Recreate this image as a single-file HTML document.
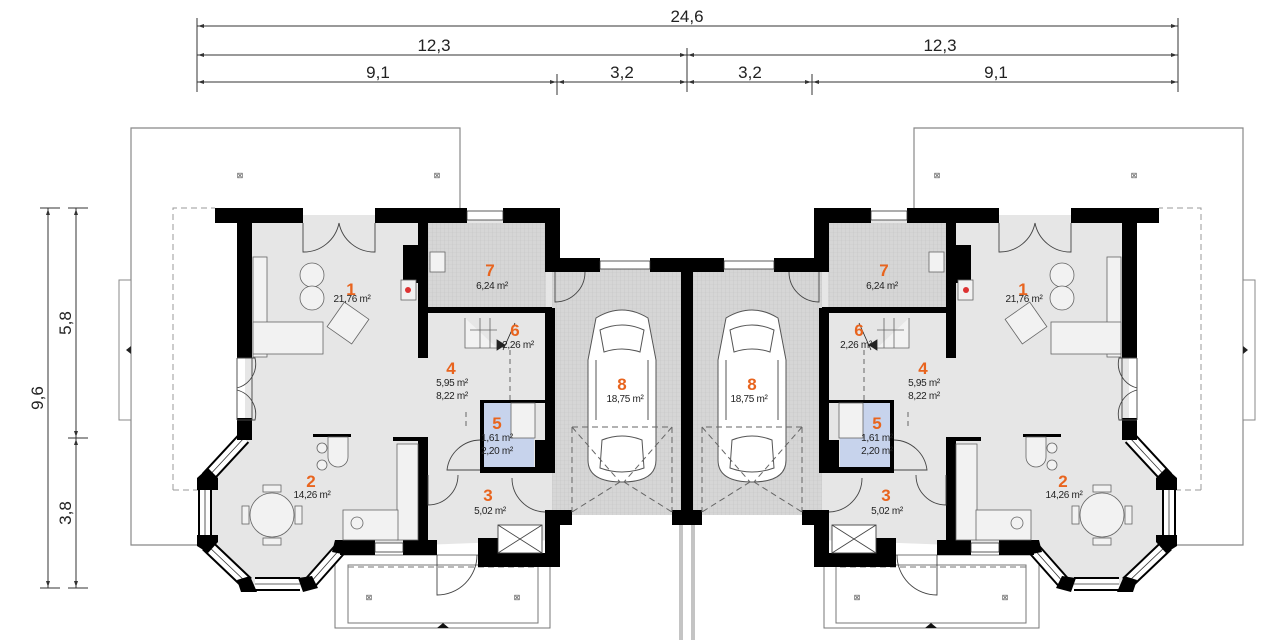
<!DOCTYPE html>
<html><head><meta charset="utf-8"><style>
html,body{margin:0;padding:0;background:#fff}
svg{display:block}
text{font-family:"Liberation Sans",sans-serif}
.n{fill:#e8641e;font-size:17px;text-anchor:middle;font-weight:bold}
.a{fill:#222;font-size:10px;text-anchor:middle;letter-spacing:-0.3px}
.d{fill:#222;font-size:17px;text-anchor:middle}
</style></head><body>
<svg width="1280" height="640" viewBox="0 0 1280 640" xmlns="http://www.w3.org/2000/svg">
<defs>
<pattern id="g" width="4" height="4" patternUnits="userSpaceOnUse">
<rect width="4" height="4" fill="#d6d6d6"/><path d="M0 0H4M0 0V4" stroke="#c4c4c4" stroke-width="0.6"/>
</pattern>
<g id="half">
 <path d="M197 545H131V128H460V208" fill="none" stroke="#888" stroke-width="1.2"/>
 <rect x="119" y="280" width="12" height="140" fill="#fff" stroke="#888" stroke-width="1"/>
 <path d="M126 350l5-4v8z" fill="#222"/>
 <path d="M173 490V208H215" fill="none" stroke="#999" stroke-width="1" stroke-dasharray="6 4"/>
 <path d="M173 490H200" fill="none" stroke="#999" stroke-width="1" stroke-dasharray="6 4"/>
 <text x="240" y="178" font-size="8" fill="#555" text-anchor="middle">⊠</text>
 <text x="437" y="178" font-size="8" fill="#555" text-anchor="middle">⊠</text>
 <polygon points="245,215 555,215 555,540 340,548 310,585 250,585 205,545 205,485 245,435" fill="#e6e6e6"/>
 <rect x="428" y="223" width="118" height="86" fill="url(#g)"/>
 <rect x="552" y="265" width="130" height="250" fill="url(#g)"/>
 <rect x="482" y="403" width="52" height="64" fill="#c7d3ec"/>
 <rect x="335" y="555" width="215" height="73" fill="#fff" stroke="#777" stroke-width="1"/>
 <rect x="348" y="565" width="190" height="58" fill="none" stroke="#777" stroke-width="1"/>
 <path d="M348 567H538" stroke="#777" stroke-dasharray="6 4"/>
 <path d="M437 628l6-5 6 5z" fill="#111"/>
 <text x="369" y="600" font-size="8" fill="#555" text-anchor="middle">⊠</text>
 <text x="517" y="600" font-size="8" fill="#555" text-anchor="middle">⊠</text>
 <path d="M680 525V640M692 525V640" stroke="#888"/>
 <!-- bay windows -->
 <g fill="none" stroke-linecap="butt">
  <path d="M244 438L207 478M205 490V535M207 545L247 583M255 584H300M310 583L341 548" stroke="#000" stroke-width="14"/>
  <path d="M244 438L207 478M205 490V535M207 545L247 583M255 584H300M310 583L341 548" stroke="#fff" stroke-width="10"/>
  <path d="M244 438L207 478M205 490V535M207 545L247 583M255 584H300M310 583L341 548" stroke="#333" stroke-width="0.8"/>
 </g>
 <g fill="#000">
  <rect x="215" y="208" width="88" height="15"/>
  <rect x="237" y="208" width="15" height="150"/>
  <rect x="375" y="208" width="92" height="15"/>
  <rect x="503" y="208" width="57" height="15"/>
  <rect x="545" y="208" width="15" height="64"/>
  <rect x="545" y="258" width="55" height="14"/>
  <rect x="650" y="258" width="32" height="14"/>
  <rect x="418" y="223" width="10" height="135"/>
  <rect x="403" y="245" width="15" height="38"/>
  <rect x="428" y="307" width="124" height="6"/>
  <rect x="545" y="308" width="10" height="165"/>
  <rect x="480" y="400" width="4" height="73"/>
  <rect x="480" y="400" width="70" height="3"/>
  <rect x="480" y="467" width="70" height="6"/>
  <rect x="535" y="440" width="12" height="30"/>
  <rect x="418" y="437" width="10" height="115"/>
  <rect x="393" y="437" width="35" height="4"/>
  <rect x="313" y="434" width="38" height="3"/>
  <rect x="340" y="540" width="35" height="15"/>
  <rect x="403" y="540" width="34" height="15"/>
  <rect x="478" y="538" width="22" height="29"/>
  <rect x="482" y="553" width="78" height="14"/>
  <rect x="545" y="510" width="15" height="57"/>
  <rect x="555" y="510" width="17" height="15"/>
  <rect x="681" y="258" width="6" height="267"/>
  <rect x="672" y="510" width="15" height="15"/>
  <rect x="237" y="418" width="15" height="22"/>
  <polygon points="197,478 208,468 218,478 218,490 197,490"/>
  <polygon points="197,535 218,535 218,542 208,553 197,546"/>
  <polygon points="237,580 250,576 257,592 241,592"/>
  <polygon points="298,578 312,576 318,588 303,592"/>
  <polygon points="335,540 347,540 347,555 332,552"/>
 </g>
 <g fill="#fff" stroke="#333" stroke-width="0.8">
  <rect x="467" y="211" width="36" height="9"/>
  <rect x="600" y="261" width="50" height="8"/>
  <rect x="375" y="543" width="28" height="9"/>
 </g>
 <g fill="none" stroke="#444" stroke-width="0.9">
  <path d="M303 223V252A36 36 0 0 0 339 223M375 223V252A36 36 0 0 1 339 223"/>
  <path d="M237 358V420M252 358V420M237 358h18a25 25 0 0 1-18 30M237 420h18a25 25 0 0 0-18-30"/>
  <path d="M555 272V302A30 30 0 0 0 585 272"/>
  <path d="M480 440A34 34 0 0 0 447 470H480"/>
  <path d="M428 475V505A30 30 0 0 0 458 475"/>
  <path d="M512 478A34 34 0 0 0 545 512"/>
  <path d="M437 555V595A40 40 0 0 0 477 555"/>
  <rect x="498" y="525" width="44" height="28" fill="#fff"/>
  <path d="M498 525L542 553M542 525L498 553"/>
 </g>
 <g fill="#f2f2f2" stroke="#666" stroke-width="0.8">
  <rect x="253" y="257" width="14" height="100"/>
  <rect x="253" y="322" width="70" height="32"/>
  <circle cx="312" cy="275" r="12"/><circle cx="312" cy="298" r="12"/>
  <rect x="333" y="308" width="30" height="30" transform="rotate(35 348 323)"/>
  <rect x="397" y="444" width="21" height="96"/>
  <rect x="343" y="510" width="55" height="30"/>
  <circle cx="357" cy="523" r="6"/>
  <circle cx="272" cy="515" r="22"/>
  <rect x="263" y="485" width="18" height="7"/><rect x="263" y="538" width="18" height="7"/>
  <rect x="242" y="506" width="7" height="18"/><rect x="295" y="506" width="7" height="18"/>
  <path d="M328 437h20v20a10 10 0 0 1-20 0z"/>
  <circle cx="322" cy="448" r="5"/><circle cx="322" cy="465" r="5"/>
  <rect x="430" y="252" width="15" height="20"/>
  <rect x="401" y="280" width="15" height="20"/>
  <rect x="511" y="403" width="24" height="35"/>
  <path d="M465 318V348H497M470 330H497M480 318V348M490 318V348" />
 </g>
 <circle cx="408" cy="290" r="3" fill="#d33"/>
 <path d="M515 323L503 350M497 340l8 5-8 5z" stroke="#222" fill="#222" stroke-width="0.8"/>
 <path d="M510 350V400M466 412V430" stroke="#666" stroke-dasharray="5 4"/>
 <g fill="#fff" stroke="#555" stroke-width="1">
  <path d="M596 318Q622 302 648 318L656 360V460Q656 482 622 482Q588 482 588 460V360Z"/>
  <path d="M600 330Q622 320 644 330L640 352Q622 346 604 352Z"/>
  <path d="M602 440Q622 432 642 440L644 468Q622 476 600 468Z"/>
  <path d="M596 360V420M648 360V420"/>
 </g>
 <path d="M572 427H672M572 427V512M672 427V512M572 427L620 482M672 427L624 482M620 482L572 512M624 482L672 512" stroke="#666" stroke-dasharray="6 4" fill="none"/>
</g>
</defs>
<use href="#half"/>
<use href="#half" transform="translate(1374 0) scale(-1 1)"/>

<g stroke="#333" stroke-width="1" fill="none">
 <path d="M197 26H1178M197 55H1178M197 82H1178"/>
 <path d="M197 18V92M1178 18V92M687 48V92M557 74V95M812 74V95"/>
 <path d="M48 208V588M76 208V588M40 208H60M40 588H60M68 208H88M68 588H88M68 438H88"/>
</g>
<g fill="#333">
 <path d="M198 26l6-2v4zM1177 26l-6-2v4zM198 55l6-2v4zM1177 55l-6-2v4zM198 82l6-2v4zM1177 82l-6-2v4z"/>
 <path d="M686 55l-6-2v4zM688 55l6-2v4zM686 82l-6-2v4zM688 82l6-2v4zM556 82l-6-2v4zM558 82l6-2v4zM811 82l-6-2v4zM813 82l6-2v4z"/>
 <path d="M48 209l-2 6h4zM48 587l-2-6h4zM76 209l-2 6h4zM76 587l-2-6h4zM76 437l-2-6h4zM76 439l-2 6h4z"/>
</g>
<text class="d" x="687" y="22">24,6</text>
<text class="d" x="434" y="51">12,3</text>
<text class="d" x="940" y="51">12,3</text>
<text class="d" x="378" y="78">9,1</text>
<text class="d" x="622" y="78">3,2</text>
<text class="d" x="750" y="78">3,2</text>
<text class="d" x="996" y="78">9,1</text>
<text class="d" transform="translate(43 398) rotate(-90)">9,6</text>
<text class="d" transform="translate(71 323) rotate(-90)">5,8</text>
<text class="d" transform="translate(71 513) rotate(-90)">3,8</text>

<text class="n" x="351" y="295">1</text><text class="a" x="352" y="302">21,76 m²</text>
<text class="n" x="311" y="487">2</text><text class="a" x="312" y="498">14,26 m²</text>
<text class="n" x="488" y="501">3</text><text class="a" x="490" y="514">5,02 m²</text>
<text class="n" x="451" y="374">4</text><text class="a" x="452" y="386">5,95 m²</text><text class="a" x="452" y="399">8,22 m²</text>
<text class="n" x="497" y="429">5</text><text class="a" x="497" y="441">1,61 m²</text><text class="a" x="497" y="454">2,20 m²</text>
<text class="n" x="515" y="336">6</text><text class="a" x="518" y="348">2,26 m²</text>
<text class="n" x="490" y="276">7</text><text class="a" x="492" y="289">6,24 m²</text>
<text class="n" x="622" y="390">8</text><text class="a" x="625" y="402">18,75 m²</text>
<text class="n" x="1023" y="295">1</text><text class="a" x="1024" y="302">21,76 m²</text>
<text class="n" x="1063" y="487">2</text><text class="a" x="1064" y="498">14,26 m²</text>
<text class="n" x="886" y="501">3</text><text class="a" x="887" y="514">5,02 m²</text>
<text class="n" x="923" y="374">4</text><text class="a" x="924" y="386">5,95 m²</text><text class="a" x="924" y="399">8,22 m²</text>
<text class="n" x="877" y="429">5</text><text class="a" x="877" y="441">1,61 m²</text><text class="a" x="877" y="454">2,20 m²</text>
<text class="n" x="859" y="336">6</text><text class="a" x="856" y="348">2,26 m²</text>
<text class="n" x="884" y="276">7</text><text class="a" x="882" y="289">6,24 m²</text>
<text class="n" x="752" y="390">8</text><text class="a" x="749" y="402">18,75 m²</text>
</svg>
</body></html>
